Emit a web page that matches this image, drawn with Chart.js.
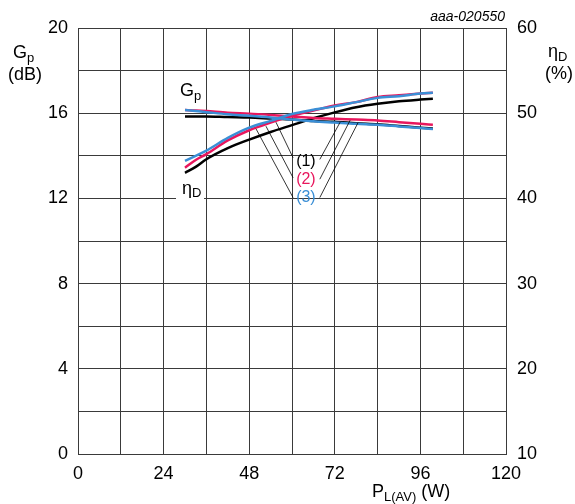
<!DOCTYPE html>
<html>
<head>
<meta charset="utf-8">
<script src="https://cdn.jsdelivr.net/npm/chart.js@4.4.0/dist/chart.umd.min.js"></script>
<style>
  html, body { margin: 0; padding: 0; background: #fff; }
</style>
</head>
<body>
<canvas id="chart" width="575" height="504"></canvas>
<script>
// load power PL(AV) in W
var powerW = [30, 33, 36, 42, 48, 54, 60, 66, 72, 78, 84, 90, 96, 99.5];

// power gain Gp (dB), curves (1) (2) (3)
var gainC1 = [15.85, 15.85, 15.85, 15.82, 15.8, 15.75, 15.7, 15.63, 15.6, 15.53, 15.48, 15.4, 15.32, 15.28];
var gainC2 = [16.15, 16.13, 16.1, 16.02, 15.98, 15.92, 15.85, 15.78, 15.74, 15.7, 15.66, 15.58, 15.5, 15.46];
var gainC3 = [16.15, 16.1, 16.05, 15.95, 15.88, 15.8, 15.7, 15.62, 15.56, 15.5, 15.46, 15.38, 15.3, 15.26];

// drain efficiency etaD (%), curves (1) (2) (3)
var effC1 = [43.0, 43.7, 44.6, 45.9, 46.9, 47.8, 48.6, 49.4, 50.1, 50.7, 51.1, 51.4, 51.6, 51.7];
var effC2 = [43.6, 44.5, 45.2, 46.8, 48.0, 48.9, 49.7, 50.3, 50.9, 51.3, 51.9, 52.1, 52.3, 52.4];
var effC3 = [44.4, 45.0, 45.6, 47.1, 48.3, 49.1, 49.9, 50.4, 50.8, 51.3, 51.8, 52.0, 52.3, 52.4];

// ticks
var xTicks = [0, 24, 48, 72, 96, 120];
var gainTicks = [0, 4, 8, 12, 16, 20];
var effTicks = [10, 20, 30, 40, 50, 60];

// callout leaders, in (W, dB) : x1, y1, x2, y2
var leaders = [
  [55.5, 15.58, 60.3, 13.91], [52.7, 15.39, 60.3, 12.97], [49.9, 15.27, 60.3, 12.04],
  [67.8, 13.83, 73.5, 15.58], [67.8, 12.9, 76.3, 15.67], [67.8, 12.04, 78.5, 15.55]
];
var calloutText = ['(1)', '(2)', '(3)'];
var calloutY = [13.75, 12.9, 12.05];

var FONT = '"Liberation Sans", Arial, sans-serif';
var colBlack = '#000000', colRed = '#e8175d', colBlue = '#3b8fd6';

function pts(xs, ys) {
  return xs.map(function (x, i) { return { x: x, y: ys[i] }; });
}

function subText(ctx, main, sub, x, y, size, subSize, drop) {
  ctx.font = size + 'px ' + FONT;
  ctx.fillText(main, x, y);
  var w = ctx.measureText(main).width;
  ctx.font = subSize + 'px ' + FONT;
  ctx.fillText(sub, x + w, y + drop);
  return w + ctx.measureText(sub).width;
}

var decor = {
  id: 'decor',
  afterDraw: function (chart) {
    var ctx = chart.ctx;
    var sx = chart.scales.x, sy = chart.scales.y;
    ctx.save();
    ctx.fillStyle = '#000';
    ctx.textAlign = 'left';
    ctx.textBaseline = 'alphabetic';

    // leader lines
    ctx.strokeStyle = '#000';
    ctx.lineWidth = 0.8;
    leaders.forEach(function (l) {
      ctx.beginPath();
      ctx.moveTo(sx.getPixelForValue(l[0]), sy.getPixelForValue(l[1]));
      ctx.lineTo(sx.getPixelForValue(l[2]), sy.getPixelForValue(l[3]));
      ctx.stroke();
    });

    // callout labels
    ctx.font = '16px ' + FONT;
    ctx.textAlign = 'center';
    ctx.textBaseline = 'middle';
    var cols = [colBlack, colRed, colBlue];
    calloutText.forEach(function (t, i) {
      ctx.fillStyle = cols[i];
      ctx.fillText(t, sx.getPixelForValue(63.9), sy.getPixelForValue(calloutY[i]));
    });

    ctx.textAlign = 'left';
    ctx.textBaseline = 'alphabetic';
    ctx.fillStyle = '#000';

    // curve labels inside the plot
    subText(ctx, 'G', 'p', 180, 96, 18, 13, 4);
    ctx.fillStyle = '#fff';
    ctx.fillRect(176, 184, 28, 16);
    ctx.fillStyle = '#000';
    subText(ctx, '\u03B7', 'D', 182, 194, 18, 13, 3);

    // axis titles
    subText(ctx, 'G', 'p', 13, 58, 18, 13, 4);
    ctx.font = '18px ' + FONT;
    ctx.textAlign = 'center';
    ctx.fillText('(dB)', 25, 80);
    ctx.fillText('(%)', 559, 79);
    ctx.textAlign = 'left';
    subText(ctx, '\u03B7', 'D', 548, 57, 18, 13, 4);
    var w = subText(ctx, 'P', 'L(AV)', 372, 497, 18, 13, 4);
    ctx.font = '18px ' + FONT;
    ctx.fillText(' (W)', 372 + w, 497);

    // figure code
    ctx.font = 'italic 14px ' + FONT;
    ctx.textAlign = 'right';
    ctx.fillText('aaa-020550', 505, 21);
    ctx.restore();
  }
};

var gridCol = '#3a3a3a';

new Chart(document.getElementById('chart'), {
  type: 'line',
  data: {
    datasets: [
      { data: pts(powerW, gainC3), borderColor: colBlue, yAxisID: 'y', order: 1 },
      { data: pts(powerW, effC3), borderColor: colBlue, yAxisID: 'y2', order: 1 },
      { data: pts(powerW, gainC2), borderColor: colRed, yAxisID: 'y', order: 2 },
      { data: pts(powerW, effC2), borderColor: colRed, yAxisID: 'y2', order: 2 },
      { data: pts(powerW, gainC1), borderColor: colBlack, yAxisID: 'y', order: 3 },
      { data: pts(powerW, effC1), borderColor: colBlack, yAxisID: 'y2', order: 3 }
    ]
  },
  options: {
    responsive: false,
    animation: false,
    layout: { padding: { top: 28, left: 0, right: 0, bottom: 0 } },
    elements: {
      line: { borderWidth: 2.5, fill: false, cubicInterpolationMode: 'monotone' },
      point: { radius: 0 }
    },
    plugins: { legend: { display: false }, tooltip: { enabled: false } },
    scales: {
      x: {
        type: 'linear', min: 0, max: 120,
        afterFit: function (s) { s.height = 50; },
        afterBuildTicks: function (s) {
          s.ticks = [];
          for (var v = 0; v <= 120; v += 12) s.ticks.push({ value: v });
        },
        ticks: {
          padding: 9, color: '#000', font: { family: FONT, size: 18 },
          callback: function (v) { return xTicks.indexOf(v) >= 0 ? String(v) : ''; }
        },
        grid: { color: gridCol, lineWidth: 1, drawTicks: false },
        border: { color: gridCol }
      },
      y: {
        type: 'linear', min: 0, max: 20, position: 'left',
        afterFit: function (s) { s.width = 78; },
        afterBuildTicks: function (s) {
          s.ticks = [];
          for (var v = 0; v <= 20; v += 2) s.ticks.push({ value: v });
        },
        ticks: {
          padding: 10, color: '#000', font: { family: FONT, size: 18 },
          callback: function (v) { return gainTicks.indexOf(v) >= 0 ? String(v) : ''; }
        },
        grid: { color: gridCol, lineWidth: 1, drawTicks: false },
        border: { color: gridCol }
      },
      y2: {
        type: 'linear', min: 10, max: 60, position: 'right',
        afterFit: function (s) { s.width = 69; },
        afterBuildTicks: function (s) {
          s.ticks = effTicks.map(function (v) { return { value: v }; });
        },
        ticks: {
          padding: 11, color: '#000', font: { family: FONT, size: 18 },
          callback: function (v) { return String(v); }
        },
        grid: { display: false, drawTicks: false },
        border: { color: gridCol }
      }
    }
  },
  plugins: [decor]
});
</script>
</body>
</html>
